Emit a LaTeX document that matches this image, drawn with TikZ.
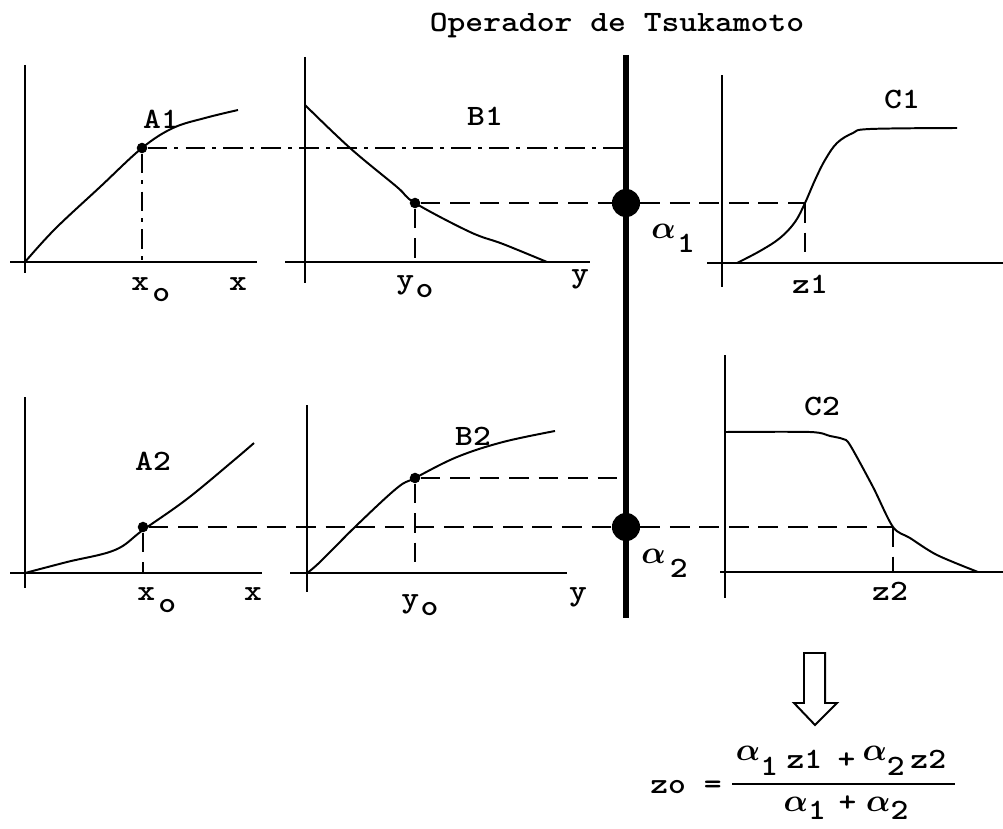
\documentclass[tikz,border=0pt]{standalone}
\usepackage{graphicx}
\newcommand{\hs}[1]{\scalebox{1.15}[1]{#1}}
\newcommand{\al}{\scalebox{1.1}{\boldmath$\alpha$}}
\begin{document}
\begin{tikzpicture}[x=0.025cm,y=-0.025cm,
  lbl/.style={inner sep=0pt, anchor=base, font=\fontsize{21}{24}\selectfont\ttfamily\bfseries},
  ax/.style={line width=1.5pt},
  crv/.style={line width=1.4pt},
  dsh/.style={line width=1.4pt, dash pattern=on 14pt off 7pt},
  dshdot/.style={line width=1.4pt, dash pattern=on 14pt off 5pt on 3pt off 5pt},
  bigdot/.style={circle, fill=black, inner sep=0pt, minimum size=20pt},
  smdot/.style={circle, fill=black, inner sep=0pt, minimum size=7.5pt}]
\path[use as bounding box] (0,0) rectangle (1003,828);
% origins
\coordinate (oA1) at (25,262);
\coordinate (oB1) at (305,262);
\coordinate (oC1) at (722,263);
\coordinate (oA2) at (25,573);
\coordinate (oB2) at (307,573);
\coordinate (oC2) at (725,572);
% axes
\draw[ax] (25,65) -- (25,273);  \draw[ax] (10,262) -- (257,262);
\draw[ax] (305,57) -- (305,283); \draw[ax] (285,262) -- (590,262);
\draw[ax] (722,75) -- (722,287); \draw[ax] (707,263) -- (1003,263);
\draw[ax] (25,397) -- (25,588);  \draw[ax] (10,573) -- (262,573);
\draw[ax] (307,405) -- (307,592); \draw[ax] (290,573) -- (567,573);
\draw[ax] (725,355) -- (725,598); \draw[ax] (720,572) -- (1003,572);
% curves
\draw[crv] plot[smooth, tension=0.6] coordinates {(25,262) (55,229) (100,187) (142,148) (173,128) (205,118) (238,110)};
\draw[crv] plot[smooth, tension=0.6] coordinates {(305,105) (350,148) (397,187) (415,203) (470,232) (503,244) (547,262)};
\draw[crv] plot[smooth, tension=0.6] coordinates {(737,263) (760,251) (780,238) (795,222) (805,203) (815,180) (825,160) (837,143) (853,133) (870,129) (957,128)};
\draw[crv] plot[smooth, tension=0.6] coordinates {(25,573) (67,562) (115,550) (143,530) (187,499) (233,461) (254,443)};
\draw[crv] plot[smooth, tension=0.6] coordinates {(307,573) (320,562) (357,525) (397,488) (415,478) (457,457) (503,442) (555,431)};
\draw[crv] plot[smooth, tension=0.5] coordinates {(725,432) (810,432) (830,436) (843,439) (850,445) (873,487) (893,527) (910,538) (937,555) (978,572)};
% thick line
\coordinate (ttop) at (626,55);
\coordinate (tbot) at (626,618);
\draw[line width=4.3pt] (ttop) -- (tbot);
% dots
\node[smdot] (pA1) at (142,148) {};
\node[smdot] (pB1) at (415,203) {};
\node[smdot] (pA2) at (143,527) {};
\node[smdot] (pB2) at (415,478) {};
\node[bigdot] (a1) at (626,203) {};
\node[bigdot] (a2) at (626,527) {};
\coordinate (c1p) at (805,203);
\coordinate (c2p) at (893,527);
% dashed lines
\draw[dshdot] (pA1) -- (pA1 -| ttop);
\draw[dshdot] (pA1) -- (pA1 |- oA1);
\draw[dsh] (pB1) -- (a1);
\draw[dsh] (a1) -- (c1p);
\draw[dsh] (pB1) -- (pB1 |- oB1);
\draw[dsh] (c1p) -- (c1p |- oC1);
\draw[dsh] (pA2) -- (a2);
\draw[dsh] (a2) -- (c2p);
\draw[dsh] (pA2) -- (pA2 |- oA2);
\draw[dsh] (pB2) -- (pB2 -| ttop);
\draw[dsh] (pB2) -- (pB2 |- oB2);
\draw[dsh] (c2p) -- (c2p |- oC2);
% labels
\node[lbl] (title) at (617,32) {\hs{Operador de Tsukamoto}};
\node[lbl] (lA1) at (161,128) {\hs{A1}};
\node[lbl, anchor=base west] (xoA1) at (131,290) {\hs{x\kern2pt\raisebox{-8pt}{o}}};
\node[lbl] (xA1) at (238,290) {\hs{x}};
\node[lbl] (lB1) at (485,125) {\hs{B1}};
\node[lbl, anchor=base west] (yoB1) at (396,288) {\hs{y\kern1pt\raisebox{-7pt}{o}}};
\node[lbl] (yB1) at (580,282) {\hs{y}};
\node[lbl] (lC1) at (902,108) {\hs{C1}};
\node[lbl] (z1) at (810,293) {\hs{z1}};
\node[lbl, anchor=base west] (al1) at (651,238) {\al\kern1pt\raisebox{-10pt}{\hs{1}}};
\node[lbl] (lA2) at (153,470) {\hs{A2}};
\node[lbl, anchor=base west] (xoA2) at (137,600) {\hs{x\kern2pt\raisebox{-9pt}{o}}};
\node[lbl] (xA2) at (253,600) {\hs{x}};
\node[lbl] (lB2) at (473,445) {\hs{B2}};
\node[lbl, anchor=base west] (yoB2) at (401,607) {\hs{y\kern1pt\raisebox{-6pt}{o}}};
\node[lbl] (yB2) at (578,600) {\hs{y}};
\node[lbl] (lC2) at (822,415) {\hs{C2}};
\node[lbl] (z2) at (890,600) {\hs{z2}};
\node[lbl, anchor=base west] (al2) at (641,563) {\al\kern3pt\raisebox{-10pt}{\hs{2}}};
% arrow
\draw[line width=1.4pt, line join=miter] (804,653) -- (804,703) -- (794,703) -- (815,725) -- (837,703) -- (825,703) -- (825,653) -- cycle;
% formula
\node[lbl, anchor=base west] (zo) at (650,793) {\hs{zo =}};
\node[lbl] (num) at (841,768) {\raisebox{5pt}{\al}\raisebox{-5pt}{\hs{1}}\hspace{6pt}\hs{z1}\hspace{11pt}\hs{+}\hspace{5pt}\raisebox{5pt}{\al}\raisebox{-5pt}{\hs{2}}\hspace{4pt}\hs{z2}};
\node[lbl] (den) at (846,811) {\al\raisebox{-6pt}{\hs{1}}\hspace{9pt}\hs{+}\hspace{7pt}\al\raisebox{-6pt}{\hs{2}}};
\draw[ax] (732,784) -- (955,784);
\end{tikzpicture}
\end{document}
